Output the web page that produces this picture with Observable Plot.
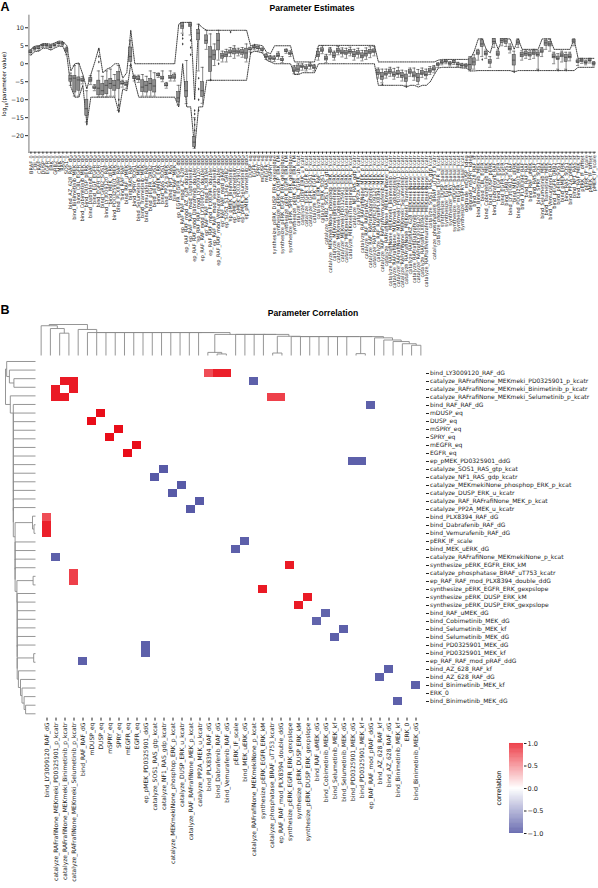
<!DOCTYPE html>
<html><head><meta charset="utf-8">
<script src="https://cdn.jsdelivr.net/npm/d3@7"></script>
<script src="https://cdn.jsdelivr.net/npm/@observablehq/plot@0.6"></script>
<style>
body{margin:0;background:#fff;}
#root{position:relative;width:598px;height:888px;overflow:hidden;background:#fff;font-family:"DejaVu Sans",sans-serif;}
.abs{position:absolute;white-space:nowrap;}
.panel{font-family:"Liberation Sans",Arial,sans-serif;font-weight:bold;font-size:12.5px;line-height:1;}
.title{font-family:"Liberation Sans",Arial,sans-serif;font-weight:bold;font-size:8.6px;transform:translate(-50%,-50%);}
</style></head>
<body><div id="root"></div>
<script>
// ---------------- Panel A data ----------------
const paNames = [
"BRAF_0","CBL_0","CRAF_0","DUSP_0","EGFR_0","ERK_0","GRB2_0","MEK_0","RAS_0","SOS1_0",
"bind_AZ_628_RAF_dG","bind_Binimetinib_MEK_dG","bind_CBL_EGFR_dG","bind_Cobimetinib_MEK_dG","bind_DUSP_pERK_dG","bind_Dabrafenib_RAF_dG","bind_EGF_EGFR_dG","bind_EGFR_EGFR_dG","bind_GRB2_SOS1_dG","bind_LY3009120_RAF_dG",
"bind_MEK_uERK_dG","bind_PD0325901_MEK_dG","bind_PLX8394_RAF_dG","bind_RAF_RAF_dG","bind_RAF_uMEK_dG","bind_RAS_RAF_dG","bind_SPRY_SOS1_dG","bind_Selumetinib_MEK_dG","bind_Trametinib_MEK_dG","bind_Vemurafenib_RAF_dG",
"bind_pEGFR_GRB2_dG","bind_pERK_SOS1_dG","bind_pMEK_ERK_dG","bind_RAS_SOS1_dG","bind_PP2A_pMEK_dG","bind_NF1_RAS_dG","bind_RAF_MEK_dG",
"ep_EGFR_EGFR_EGF_ddG","ep_RAF_RAF_mod_AZ_628_ddG","ep_RAF_RAF_mod_AZ_628_double_ddG","ep_RAF_RAF_mod_Dabrafenib_ddG","ep_RAF_RAF_mod_Dabrafenib_double_ddG","ep_RAF_RAF_mod_LY3009120_ddG","ep_RAF_RAF_mod_LY3009120_double_ddG","ep_RAF_RAF_mod_PLX8394_ddG","ep_RAF_RAF_mod_PLX8394_double_ddG","ep_RAF_RAF_mod_Vemurafenib_ddG",
"ep_RAF_RAF_mod_Vemurafenib_double_ddG","ep_RAF_RAF_mod_pRAF_ddG","ep_SOS1_S1134p_GRB2_ddG","ep_pMEK_Binimetinib_ddG","ep_pMEK_Cobimetinib_ddG","ep_pMEK_PD0325901_ddG","ep_pMEK_Selumetinib_ddG","ep_pMEK_Trametinib_ddG",
"DUSP_eq","EGFR_eq","SPRY_eq","mDUSP_eq","mEGFR_eq","mSPRY_eq",
"synthesize_pERK_DUSP_ERK_gexpslope","synthesize_pERK_DUSP_ERK_kM","synthesize_pERK_EGFR_ERK_gexpslope","synthesize_pERK_EGFR_ERK_kM","synthesize_pERK_SPRY_ERK_gexpslope","synthesize_pERK_SPRY_ERK_kM",
"catalyze_CBL_EGFR_ub_kcat","catalyze_DUSP_ERK_u_kcatr","catalyze_EGFR_EGFR_p_kcat","catalyze_EGFR_SOS1_p_kcat","catalyze_ERK_EGFR_p_kcat","catalyze_ERK_RAF_p_kcat","catalyze_ERK_SOS1_p_kcat","catalyze_GRB2_SOS1_RAS_gtp_kcat","catalyze_MEKmekiNone_phosphop_ERK_p_kcat","catalyze_MEKmekiBinimetinib_ERK_p_kcat",
"catalyze_MEKmekiCobimetinib_ERK_p_kcat","catalyze_MEKmekiPD0325901_ERK_p_kcat","catalyze_MEKmekiSelumetinib_ERK_p_kcat","catalyze_MEKmekiTrametinib_ERK_p_kcat","catalyze_NF1_RAS_gdp_kcatr","catalyze_PP2A_MEK_u_kcatr","catalyze_RAF_RAFrafiNone_MEK_p_kcat","catalyze_RAF_RAFrafiAZ_628_MEK_p_kcat","catalyze_RAF_RAFrafiDabrafenib_MEK_p_kcat","catalyze_RAF_RAFrafiLY3009120_MEK_p_kcat",
"catalyze_RAF_RAFrafiPLX8394_MEK_p_kcat","catalyze_RAF_RAFrafiVemurafenib_MEK_p_kcat","catalyze_RAFrafiNone_MEKmekiNone_p_kcat","catalyze_RAFrafiNone_MEKmeki_Binimetinib_p_kcatr","catalyze_RAFrafiNone_MEKmeki_Cobimetinib_p_kcatr","catalyze_RAFrafiNone_MEKmeki_PD0325901_p_kcatr","catalyze_RAFrafiNone_MEKmeki_Selumetinib_p_kcatr","catalyze_RAFrafiNone_MEKmeki_Trametinib_p_kcatr","catalyze_RAFrafiAZ_628_MEKmekiNone_p_kcatr","catalyze_RAFrafiDabrafenib_MEKmekiNone_p_kcatr",
"catalyze_RAFrafiLY3009120_MEKmekiNone_p_kcatr","catalyze_RAFrafiPLX8394_MEKmekiNone_p_kcatr","catalyze_RAFrafiVemurafenib_MEKmekiNone_p_kcatr","catalyze_SOS1_RAS_gtp_kcat","catalyze_phosphatase_BRAF_uT753_kcatr","catalyze_phosphatase_EGFR_u_kcat",
"synthesize_DUSP_basal_kcat","synthesize_EGFR_basal_kcat","synthesize_SPRY_basal_kcat","synthesize_mDUSP_basal_kcat","synthesize_mEGFR_basal_kcat","synthesize_mSPRY_basal_kcat","degrade_mDUSP_kdeg","degrade_mSPRY_kdeg",
"bind_AZ_628_RAF_kf","bind_Binimetinib_MEK_kf","bind_CBL_EGFR_kf","bind_Cobimetinib_MEK_kf","bind_DUSP_pERK_kf","bind_Dabrafenib_RAF_kf","bind_EGF_EGFR_kf","bind_EGFR_EGFR_kf","bind_GRB2_SOS1_kf","bind_LY3009120_RAF_kf",
"bind_MEK_uERK_kf","bind_PD0325901_MEK_kf","bind_PLX8394_RAF_kf","bind_RAF_RAF_kf","bind_RAF_uMEK_kf","bind_RAS_RAF_kf","bind_SPRY_SOS1_kf","bind_Selumetinib_MEK_kf","bind_Trametinib_MEK_kf","bind_Vemurafenib_RAF_kf",
"bind_pEGFR_GRB2_kf","bind_pERK_SOS1_kf","bind_pMEK_ERK_kf","bind_RAS_SOS1_kf","bind_PP2A_pMEK_kf","bind_NF1_RAS_kf","bind_RAF_MEK_kf",
"pERK_IF_offset","pERK_IF_scale","pMEK_IF_offset","pMEK_IF_scale"];

const paMed = [3.2,4.2,4.3,5.0,5.0,4.6,5.1,5.6,5.5,3.8,
-4.2,-4.0,-4.5,-4.6,-12.5,-4.5,-6.7,-6.8,-7.5,-6.0,-5.5,-6.0,-4.5,-5.5,-5.8,2.0,-4.0,-4.2,-6.5,-6.0,-5.5,-6.2,-3.2,-4.0,-6.0,-3.8,-3.7,
-9.5,10.5,-7.5,10.8,-21.8,8.5,-7.5,6.5,1.9,2.5,6.5,2.2,2.5,3.2,3.5,3.3,3.2,3.0,
4.0,4.5,4.3,3.8,2.0,1.5,
1.4,2.3,1.0,3.5,2.8,-1.8,
-1.5,-0.8,-1.2,-0.5,-1.0,2.5,3.8,1.5,3.5,2.3,3.6,3.2,3.0,3.4,2.6,3.0,2.2,2.8,3.3,3.5,
-2.5,-3.5,-2.8,-2.2,-3.0,-2.7,-3.3,-4.0,-2.3,-3.2,-3.8,-2.6,-3.0,-2.0,-1.5,-0.3,
0.3,0.6,0.0,0.4,-0.2,-0.5,-0.6,-0.2,
0.5,3.0,5.5,2.8,0.5,6.2,2.7,6.5,6.3,4.2,1.0,6.0,2.5,2.8,2.5,3.0,2.6,3.5,5.8,5.5,2.0,1.5,2.4,1.8,2.0,6.3,0.5,
0.8,0.3,0.9,0.0];
const paQ1 = [2.9,3.9,4.0,4.8,4.8,4.3,4.9,5.4,5.3,3.3,
-5.0,-8.0,-7.5,-5.0,-14.5,-5.0,-7.0,-8.8,-8.8,-8.5,-7.0,-7.5,-7.0,-5.8,-6.2,0.5,-4.3,-4.6,-7.9,-8.0,-7.5,-8.0,-3.5,-4.4,-6.3,-4.2,-4.2,
-10.7,9.7,-9.3,10.2,-23.2,6.5,-9.3,5.5,-2.3,1.0,3.7,1.4,1.8,2.8,2.6,2.8,2.5,1.4,
3.7,4.2,4.0,3.5,1.6,1.1,
1.0,1.8,0.7,3.2,2.5,-2.3,
-2.3,-1.2,-1.6,-0.9,-1.5,1.8,3.3,0.9,3.0,1.6,3.0,2.6,2.5,2.8,1.8,2.4,1.5,2.0,2.7,3.0,
-3.2,-4.5,-3.3,-2.8,-3.6,-3.2,-4.0,-5.1,-2.8,-3.8,-5.1,-3.2,-3.5,-2.5,-1.9,-0.6,
0.0,0.3,-0.3,0.1,-0.5,-0.8,-0.9,-1.8,
-0.5,2.5,4.6,2.3,0.0,5.5,2.2,5.8,5.5,3.7,-0.5,5.3,1.8,2.2,2.0,2.4,2.0,3.0,5.0,4.8,1.5,1.0,1.8,0.5,1.5,5.8,0.2,
0.5,0.0,0.6,-0.3];
const paQ3 = [3.5,4.4,4.6,5.2,5.2,4.9,5.3,5.8,5.7,4.2,
-3.4,-3.4,-3.8,-4.2,-10.0,-4.0,-6.3,-4.7,-5.6,-4.7,-4.2,-4.8,-2.3,-5.1,-5.3,4.5,-3.7,-3.7,-4.6,-5.0,-4.2,-4.6,-2.9,-3.6,-5.7,-3.4,-3.2,
-7.9,11.3,-5.1,11.3,-20.4,9.4,-5.1,7.9,4.6,3.7,8.3,2.8,3.2,3.7,4.2,3.7,3.8,4.2,
4.3,4.8,4.6,4.1,2.4,1.9,
1.8,2.8,1.4,3.8,3.1,-1.0,
-0.5,-0.5,-0.8,-0.2,-0.6,3.3,4.3,2.0,4.0,3.0,4.2,3.7,3.5,3.9,3.3,3.5,2.9,3.6,3.9,4.0,
-1.8,-2.5,-2.3,-1.6,-2.4,-2.0,-2.6,-3.0,-1.8,-2.4,-2.8,-2.0,-2.3,-1.5,-1.0,0.0,
0.6,0.9,0.3,0.7,0.1,-0.2,-0.3,1.5,
1.5,3.5,6.5,3.3,1.0,6.9,3.2,6.9,6.8,4.8,2.5,6.5,3.0,3.2,3.0,3.5,3.1,4.0,6.3,6.0,2.6,2.0,2.9,2.5,2.6,6.7,0.9,
1.1,0.6,1.2,0.3];
const paLo = [2.5,3.6,3.7,4.5,4.6,4.0,4.7,5.1,5.0,2.5,
-6.0,-9.0,-9.0,-5.6,-16.2,-5.8,-7.5,-9.2,-9.2,-9.2,-9.0,-9.0,-13.0,-6.5,-6.8,-0.5,-4.8,-5.2,-9.0,-9.0,-9.0,-9.0,-3.8,-5.0,-6.8,-4.8,-4.8,
-11.5,8.5,-11.1,8.0,-23.5,-2.0,-11.0,4.0,-4.6,-0.5,1.0,0.5,0.5,2.0,1.5,2.2,1.8,0.5,
3.3,3.9,3.6,3.2,1.2,0.7,
0.6,1.2,0.3,2.9,2.0,-2.8,
-2.8,-1.8,-2.0,-1.5,-2.0,1.0,2.8,0.3,2.5,1.0,2.5,1.9,1.5,2.2,1.0,1.6,0.8,1.2,1.7,2.2,
-4.0,-5.3,-4.0,-3.5,-4.3,-3.8,-4.8,-6.0,-3.5,-4.6,-5.8,-3.8,-4.2,-3.0,-2.5,-1.0,
-0.3,0.0,-0.6,-0.2,-0.8,-1.0,-1.1,-2.0,
-1.5,1.0,2.0,1.5,-1.0,4.5,1.5,5.0,4.8,3.0,-2.0,4.5,1.0,1.5,1.2,1.5,-1.5,2.0,4.0,3.5,0.0,-1.5,0.5,-1.5,0.8,5.0,-0.5,
0.1,-0.3,0.2,-0.6];
const paHi = [3.9,4.7,4.9,5.4,5.4,5.2,5.5,6.0,5.9,4.6,
-2.6,-0.5,0.0,-3.6,-7.5,-3.3,-5.8,-2.0,-3.5,-2.0,-1.5,-3.0,-0.5,-4.6,-4.8,6.5,-3.2,-3.2,-3.0,-3.5,-2.0,-2.5,-2.6,-2.0,-5.2,-2.0,-2.6,
-6.0,11.5,0.9,11.5,-15.0,11.0,-1.0,9.3,8.3,5.5,9.3,3.5,4.0,4.5,5.0,4.3,4.5,5.5,
4.6,5.0,4.9,4.4,2.8,2.3,
2.2,3.3,2.0,4.1,3.6,-0.5,
0.0,0.0,-0.3,0.3,-0.2,4.2,5.0,2.6,4.5,3.5,4.8,4.4,4.3,4.6,4.0,4.3,3.7,4.4,4.7,4.8,
-1.2,-1.5,-1.5,-1.0,-1.3,-1.0,-1.8,-2.0,-1.2,-1.2,-1.6,-1.2,-1.5,-0.8,-0.5,0.3,
0.9,1.1,0.6,1.0,0.4,0.1,0.0,2.0,
2.5,4.0,6.9,3.8,2.0,6.9,3.8,6.9,6.9,5.5,3.5,6.9,3.6,3.8,3.6,4.0,3.6,4.5,6.9,6.9,3.2,2.8,3.5,3.2,3.2,6.9,1.3,
1.5,1.0,1.5,0.6];
const paLb = [2.4,3.4,3.5,4.3,4.3,3.8,4.4,4.9,4.8,2.3,
-6.5,-9.3,-9.3,-6.0,-16.7,-9.3,-9.3,-9.3,-9.3,-9.3,-9.3,-9.3,-13.5,-7.0,-7.5,0.0,-5.0,-9.3,-9.3,-9.3,-9.3,-9.3,-9.3,-9.3,-9.3,-9.3,-9.3,
-12.0,0.0,-12.0,-12.0,-23.5,-12.0,-12.0,-4.6,-4.6,-4.6,-4.6,-4.6,-4.6,-4.6,-4.6,-4.6,-4.6,-4.6,
3.0,3.5,3.3,3.0,1.0,0.5,
0.0,0.0,0.0,0.0,0.0,-3.0,
-3.0,-2.5,-2.5,-2.5,-2.5,0.0,0.0,0.0,0.0,0.0,0.0,0.0,0.0,0.0,0.0,0.0,0.0,0.0,0.0,0.0,
-6.0,-6.0,-6.0,-6.0,-6.0,-6.0,-6.0,-6.5,-6.0,-6.0,-6.5,-6.0,-6.0,-5.0,-3.0,-1.2,
-1.0,-1.0,-1.0,-1.0,-1.0,-1.2,-1.2,-2.0,
-2.0,-1.9,-1.9,-1.9,-1.9,-1.9,-1.9,-1.9,-1.9,-1.9,-2.3,-1.9,-1.9,-1.9,-1.9,-1.9,-1.9,-1.9,-1.9,-1.9,-1.9,-1.9,-1.9,-1.9,-1.9,-1.9,-1.0,
-1.0,-1.0,-1.0,-1.0];
const paUb = [4.0,4.9,5.0,5.6,5.6,5.4,5.8,6.3,6.2,5.0,
-2.0,0.0,0.2,-3.0,-7.0,-3.0,0.5,4.4,-2.5,-1.5,-1.0,0.0,0.0,-4.0,-2.5,9.3,0.0,0.0,0.0,0.0,0.0,0.0,0.0,0.0,0.0,0.0,0.0,
11.0,11.5,11.5,11.5,-10.0,11.0,10.0,9.3,9.3,9.3,9.3,9.3,9.3,9.3,9.3,9.3,9.3,9.3,
5.0,5.3,5.2,5.0,3.2,2.8,
5.0,5.0,5.0,5.0,5.0,0.5,
0.5,0.5,0.5,0.5,0.5,5.1,5.1,5.1,5.1,5.1,5.1,5.1,5.1,5.1,5.1,5.1,5.1,5.1,5.1,5.1,
0.5,0.5,0.5,0.5,0.5,0.5,0.5,0.5,0.5,0.5,0.5,0.5,0.5,0.5,0.5,1.0,
1.2,1.2,1.2,1.2,1.2,1.2,1.2,1.2,
3.5,6.9,6.9,4.0,3.0,6.9,4.0,6.9,6.9,6.9,4.0,6.9,4.0,4.0,4.0,4.0,4.0,6.9,6.9,6.9,4.0,4.0,4.0,4.0,4.0,6.9,1.5,
1.5,1.5,1.5,1.5];
const outIdx = [14,17,17,17,22,22,22,38,38,38,40,40,40,41,41,41,41,41,42,42,42,42,45,47,50,55,56,88,94,113,121,127,132,134];
const outVal = [-16.8,2.0,4.0,0.5,-10.0,-11.5,-13.2,8.0,7.0,5.5,6.5,4.5,2.5,-13.0,-14.0,-15.5,-17.0,-18.5,-4.0,-7.0,-10.0,-13.0,-4.5,0.0,8.8,3.0,5.2,-5.8,-6.3,1.2,-2.2,-1.8,-1.8,-1.8];
const paYTicks = [10,5,0,-5,-10,-15,-20];

// ---------------- Panel B data ----------------
const corrNames = [
"bind_LY3009120_RAF_dG","catalyze_RAFrafiNone_MEKmeki_PD0325901_p_kcatr","catalyze_RAFrafiNone_MEKmeki_Binimetinib_p_kcatr","catalyze_RAFrafiNone_MEKmeki_Selumetinib_p_kcatr","bind_RAF_RAF_dG",
"mDUSP_eq","DUSP_eq","mSPRY_eq","SPRY_eq","mEGFR_eq","EGFR_eq","ep_pMEK_PD0325901_ddG",
"catalyze_SOS1_RAS_gtp_kcat","catalyze_NF1_RAS_gdp_kcatr","catalyze_MEKmekiNone_phosphop_ERK_p_kcat","catalyze_DUSP_ERK_u_kcatr","catalyze_RAF_RAFrafiNone_MEK_p_kcat","catalyze_PP2A_MEK_u_kcatr",
"bind_PLX8394_RAF_dG","bind_Dabrafenib_RAF_dG","bind_Vemurafenib_RAF_dG","pERK_IF_scale","bind_MEK_uERK_dG","catalyze_RAFrafiNone_MEKmekiNone_p_kcat",
"synthesize_pERK_EGFR_ERK_kM","catalyze_phosphatase_BRAF_uT753_kcatr","ep_RAF_RAF_mod_PLX8394_double_ddG","synthesize_pERK_EGFR_ERK_gexpslope","synthesize_pERK_DUSP_ERK_kM","synthesize_pERK_DUSP_ERK_gexpslope",
"bind_RAF_uMEK_dG","bind_Cobimetinib_MEK_dG","bind_Selumetinib_MEK_kf","bind_Selumetinib_MEK_dG","bind_PD0325901_MEK_dG","bind_PD0325901_MEK_kf",
"ep_RAF_RAF_mod_pRAF_ddG","bind_AZ_628_RAF_kf","bind_AZ_628_RAF_dG","bind_Binimetinib_MEK_kf","ERK_0","bind_Binimetinib_MEK_dG"];
// correlated pairs (1-based positions in corrNames), shown symmetrically
const corrRow = [1,1,1,2,2,3,2,4,4,5,6,8,10,12,12,13,15,17,22,25,29,31,33,38,40];
const corrCol = [19,20,21,3,4,4,24,26,27,37,7,9,11,35,36,14,16,18,23,28,30,32,34,39,42];
const corrVal = [0.7,0.88,0.88,0.9,0.9,0.9,-0.82,0.75,0.75,-0.82,0.95,0.95,0.95,-0.82,-0.82,-0.85,-0.85,-0.85,-0.82,0.9,0.9,-0.8,-0.82,-0.82,-0.82];
// hierarchical clustering linkage (0-based leaves; ids >= 42 are earlier merges)
const linkA = [2,1,0,19,18,25,34,40,39,38,37,36,48,33,32,31,30,29,28,27,47,24,23,22,21,46,17,16,15,14,13,12,11,10,9,8,7,6,5,4,44];
const linkB = [3,42,43,20,45,26,35,41,49,50,51,52,53,54,55,56,57,58,59,60,61,62,63,64,65,66,67,68,69,70,71,72,73,74,75,76,77,78,79,80,81];
const linkH = [0.72,0.87,0.96,0.05,0.10,0.08,0.06,0.33,0.38,0.45,0.50,0.57,0.61,0.61,0.61,0.61,0.61,0.61,0.61,0.61,0.62,0.68,0.68,0.68,0.68,0.68,0.74,0.74,0.74,0.74,0.74,0.74,0.74,0.74,0.74,0.74,0.74,0.74,0.74,0.84,1.0];
const cbTicks = [-1,-0.5,0,0.5,1];

// ---------------- build ----------------
const root = document.getElementById("root");
const W = 598, H = 888;
const baseStyle = {position:"absolute", left:"0px", top:"0px", background:"transparent", overflow:"visible", fontFamily:"DejaVu Sans, sans-serif", color:"#222"};
function add(el){ root.appendChild(el); }
function html(txt, cls, x, y, extra){ const d=document.createElement("div"); d.className="abs "+cls; d.innerHTML=txt; d.style.left=x+"px"; d.style.top=y+"px"; if(extra) Object.assign(d.style, extra); root.appendChild(d); }

const paData = paNames.map((name,i)=>({name, med:paMed[i], q1:paQ1[i], q3:paQ3[i], lo:paLo[i], hi:paHi[i], lb:paLb[i], ub:paUb[i]}));
const outliers = outIdx.map((i,k)=>({name:paNames[i], v:outVal[k]}));
const yMin=-24.6, yMax=13.5;
const boxStroke="#3c3c3c";

add(Plot.plot({
  width:W, height:H, marginLeft:28, marginRight:2, marginTop:14.7, marginBottom:H-151.7,
  style:baseStyle,
  x:{type:"band", domain:paNames, padding:0.22},
  y:{domain:[yMin,yMax]},
  marks:[
    Plot.line(paData,{x:"name", y:"ub", stroke:"#111", strokeWidth:0.8, strokeDasharray:"1.1,1.1"}),
    Plot.line(paData,{x:"name", y:"lb", stroke:"#111", strokeWidth:0.8, strokeDasharray:"1.1,1.1"}),
    Plot.ruleX(paData,{x:"name", y1:"lo", y2:"hi", stroke:boxStroke, strokeWidth:0.6}),
    Plot.tickY(paData,{x:"name", y:"lo", stroke:boxStroke, strokeWidth:0.6}),
    Plot.tickY(paData,{x:"name", y:"hi", stroke:boxStroke, strokeWidth:0.6}),
    Plot.barY(paData,{x:"name", y1:"q1", y2:"q3", fill:"#8e8e8e", stroke:boxStroke, strokeWidth:0.5}),
    Plot.tickY(paData,{x:"name", y:"med", stroke:"#2a2a2a", strokeWidth:0.6}),
    Plot.dot(outliers,{x:"name", y:"v", r:0.9, symbol:"diamond", fill:boxStroke, stroke:"none"}),
    Plot.ruleY([yMin],{stroke:"#555", strokeWidth:0.8}),
    Plot.ruleX([paNames[0]],{dx:-2, y1:yMin, y2:yMax, stroke:"#555", strokeWidth:0.8}),
    Plot.axisY({ticks:paYTicks, tickSize:3, tickPadding:1.5, fontSize:6.2, label:null}),
    Plot.axisX({tickRotate:-90, tickSize:2, tickPadding:1, fontSize:5, label:null})
  ]
}));

// heatmap
const cells = [];
corrRow.forEach((r,k)=>{
  const a = corrNames[r-1], b = corrNames[corrCol[k]-1];
  cells.push({row:a, col:b, r:corrVal[k]});
  cells.push({row:b, col:a, r:corrVal[k]});
});
const colorScale = {type:"linear", domain:[-1,0,1], range:["#3a3d97","#ffffff","#e8000d"]};
const hmTop=356.7, hmBottom=717.6, hmLeft=36, hmRight=425;
add(Plot.plot({
  width:W, height:H, marginLeft:hmLeft, marginRight:W-hmRight, marginTop:hmTop, marginBottom:H-hmBottom,
  style:baseStyle,
  x:{type:"band", domain:corrNames, padding:0},
  y:{type:"band", domain:corrNames, padding:0},
  color:colorScale,
  marks:[
    Plot.cell(cells,{x:"col", y:"row", fill:"r"}),
    Plot.axisX({anchor:"bottom", tickRotate:-90, tickSize:3, tickPadding:1.5, fontSize:6, label:null}),
    Plot.axisY({anchor:"right", tickSize:3, tickPadding:1.5, fontSize:6, label:null})
  ]
}));

// dendrograms
function dendroSegments(n){
  const pos=[], hgt=[], segs=[];
  for(let i=0;i<n;i++){pos[i]=i; hgt[i]=0;}
  linkA.forEach((a,k)=>{
    const b=linkB[k], h=linkH[k], id=n+k;
    pos[id]=(pos[a]+pos[b])/2; hgt[id]=h;
    segs.push({p1:pos[a], h1:hgt[a], p2:pos[a], h2:h});
    segs.push({p1:pos[b], h1:hgt[b], p2:pos[b], h2:h});
    segs.push({p1:pos[a], h1:h, p2:pos[b], h2:h});
  });
  return segs;
}
const segs = dendroSegments(corrNames.length);
const nL = corrNames.length;
add(Plot.plot({
  width:W, height:H, marginLeft:hmLeft, marginRight:W-hmRight, marginTop:324, marginBottom:H-355,
  style:baseStyle,
  x:{domain:[-0.5, nL-0.5], axis:null},
  y:{domain:[0,1], axis:null},
  marks:[Plot.link(segs,{x1:"p1", y1:"h1", x2:"p2", y2:"h2", stroke:"#8a8a8a", strokeWidth:0.9})]
}));
add(Plot.plot({
  width:W, height:H, marginLeft:5, marginRight:W-35, marginTop:hmTop, marginBottom:H-hmBottom,
  style:baseStyle,
  x:{domain:[0,1], reverse:true, axis:null},
  y:{domain:[-0.5, nL-0.5], reverse:true, axis:null},
  marks:[Plot.link(segs,{x1:"h1", y1:"p1", x2:"h2", y2:"p2", stroke:"#8a8a8a", strokeWidth:0.9})]
}));

// colorbar
const stops = d3.range(-1, 1, 0.01);
add(Plot.plot({
  width:W, height:H, marginLeft:509, marginRight:W-523, marginTop:743, marginBottom:H-833,
  style:baseStyle,
  x:{domain:[0,1], axis:null},
  y:{domain:[-1,1]},
  color:colorScale,
  marks:[
    Plot.rect(stops,{x1:0, x2:1, y1:d=>d, y2:d=>d+0.0105, fill:d=>d+0.005}),
    Plot.axisY({anchor:"right", ticks:cbTicks, tickFormat:d3.format(".1f"), tickSize:2.5, tickPadding:1.5, fontSize:6.5, label:null})
  ]
}));

// texts
html("A","panel",0.5,1);
html("Parameter Estimates","title",312,7.5);
html("log<sub style='font-size:70%'>10</sub>(parameter value)","",4.5,84,{fontSize:"5.6px",transform:"translate(-50%,-50%) rotate(-90deg)",fontFamily:"DejaVu Sans"});
html("B","panel",0.5,304);
html("Parameter Correlation","title",313,312.5);
html("correlation","",499,788,{fontSize:"6.5px",transform:"translate(-50%,-50%) rotate(-90deg)",fontFamily:"DejaVu Sans"});
</script>
</body></html>
